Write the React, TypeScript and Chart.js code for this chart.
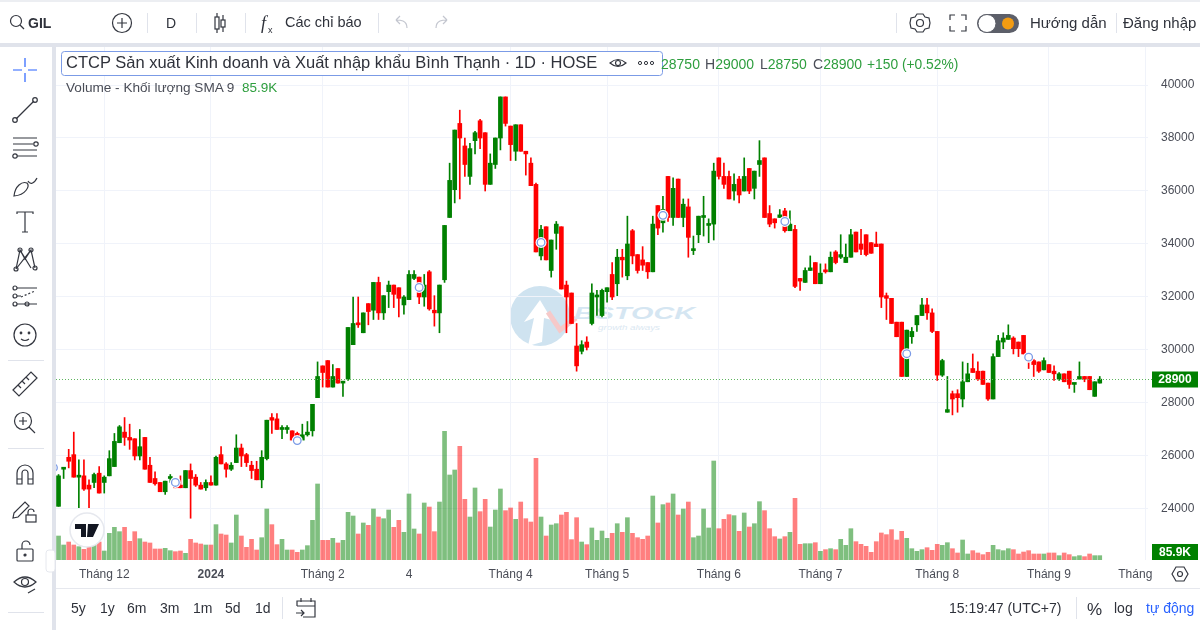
import React, { useEffect, useRef } from "react";
import { Chart, registerables } from "chart.js";

Chart.register(...registerables);

const opens = [
  24100,25500,25950,26050,25200,25250,24900,25000,25350,25000,
  25250,25600,26500,26900,26700,26650,26000,26700,25650,25150,
  25000,24650,25150,24900,24900,24800,25450,25200,24900,24800,
  25000,24900,26050,25700,25500,25750,26300,26050,25650,25500,
  25100,25900,27450,27400,27000,27000,26950,26850,26600,26800,
  26950,28200,29400,29600,28600,29300,28750,28900,30200,31000,
  30650,31750,31500,32550,31400,32200,32450,32350,31700,31900,
  32700,32750,32000,32950,31500,31400,32650,35000,36050,38550,
  37700,36550,37900,38650,38200,36250,37000,38000,39550,38450,
  37500,38500,37500,37050,36250,33550,34650,33000,34400,34650,
  32450,32150,30150,29950,30300,31000,32000,31300,32200,32850,
  32500,33500,32800,34500,33600,33400,33300,32950,35450,34800,
  36550,35000,36450,35000,35400,33750,34350,35000,34700,34750,
  37250,36550,36550,36000,36450,36000,36850,36100,37000,37250,
  35150,34950,35000,35250,34500,34550,32700,32550,33000,33300,
  32500,33000,32950,33700,33500,33300,33500,34450,34000,34350,
  34050,34000,34000,32050,31950,31050,31050,29000,30500,30950,
  31300,31700,31400,30700,29050,27650,28350,28350,28150,28800,
  29300,29200,29200,28750,28150,29750,30300,30400,30450,30300,
  30550,29850,29600,29550,29250,29450,29200,28900,29100,29200,
  28700,28900,29000,29000,28250,28750,
];
const closes = [
  25250,25550,25800,25200,25250,24750,24750,25300,24600,25200,
  25900,26550,27100,26700,26600,26000,26350,25500,25000,24950,
  24650,25050,25200,24800,24800,25450,25150,24900,24750,25000,
  24900,25950,25700,25500,25650,26300,26000,25750,25450,25100,
  25950,27350,27350,27000,27050,27050,26600,26650,26800,26900,
  27950,29000,29150,28600,29000,28750,28800,30850,31000,30950,
  31400,31450,32550,31400,32050,32450,32100,31950,32000,32850,
  32850,32000,32450,31550,31400,32450,34700,36400,38300,38000,
  37000,37600,38200,38000,36250,37050,38000,39550,38550,37750,
  38500,37500,37400,36200,33700,34550,33400,34150,34750,32300,
  32000,31000,29400,30200,30100,32150,32050,32250,32350,32000,
  33500,33400,34000,33550,33000,33200,32950,34750,34600,35300,
  35000,36100,35000,35500,34250,33800,35050,35050,34750,36750,
  36550,36250,35700,36250,35850,36550,36000,36750,37150,35000,
  34750,34800,35100,34500,34750,32400,32600,33000,33100,32500,
  32900,32950,33500,33300,33600,33500,34350,33700,33800,33600,
  33650,33900,32000,31950,31000,30500,29000,30750,30700,31300,
  31700,31400,30700,29050,29600,27750,28150,28200,28800,29100,
  29150,28900,28700,28150,29750,30350,30450,30550,30050,30050,
  29850,29650,29450,29200,29600,29150,29100,29100,28800,28700,
  28750,29000,28900,28500,28800,28900,
];
const highs = [
  25300,25550,26250,26900,25850,25850,25100,25350,25600,25250,
  26200,26850,27150,27450,27200,26650,27000,26700,25950,25400,
  25000,25050,25300,25100,25250,25450,25700,25300,25000,25100,
  25250,26000,26350,25750,25750,26800,26450,26100,25800,25800,
  26200,27350,27600,27600,27150,27150,26950,26900,27200,27300,
  27950,29550,29400,29600,29450,29300,28800,30850,32000,32000,
  31400,31750,32550,32750,32050,32600,32450,32350,32050,33000,
  33000,32750,32850,33000,32050,32450,34700,37050,38300,39050,
  38000,37800,38250,38700,38200,37400,38000,39550,39550,38450,
  38500,38500,37500,37250,36300,34700,34650,34150,34850,34650,
  32600,32150,31000,30350,30500,32500,32250,32300,32350,33300,
  33800,33800,35050,34550,33600,33900,33300,35050,35450,35800,
  36550,36500,36450,35700,35700,34300,35050,35800,34950,37050,
  37250,37050,36750,36650,36550,37250,36850,36750,37900,37250,
  35450,34950,35300,35350,35250,34700,32700,33100,33550,33300,
  33250,33250,33700,33750,34350,34000,34550,34450,34550,34350,
  34050,34450,34000,32150,31950,31050,31050,30750,30850,31300,
  31950,31950,31550,30700,29650,29000,28450,28500,29550,29500,
  29850,29550,29200,28750,29850,30550,30650,30950,30500,30300,
  30550,29850,29650,29550,29700,29450,29400,29150,29100,29200,
  28750,29550,29000,29000,28800,29000,
];
const lows = [
  24100,25150,25550,25200,24050,24700,24050,24800,24600,24600,
  25250,25600,26500,26400,26250,25850,25850,25500,25000,24900,
  24650,24550,25000,24800,24800,24800,23650,24850,24750,24700,
  24900,24900,25700,25200,25450,25750,25600,25600,25150,25100,
  24800,25850,26850,27000,26650,26850,26600,26550,26600,26750,
  26750,28200,28600,28600,28600,28750,28250,28850,30200,30850,
  30650,30950,31150,31150,31150,31600,31600,31250,31350,31900,
  32650,31750,31650,31500,30900,30650,32550,35000,35550,35700,
  36550,36250,37400,37600,36000,36250,36850,37550,38450,37150,
  37150,37500,36600,36200,33700,33400,33400,32750,33800,32300,
  30650,31000,29200,29850,30000,30950,31300,31250,31800,31900,
  32050,32750,32650,33250,32900,33000,32700,32950,34350,34450,
  34850,34700,35000,34650,33500,33600,34050,34300,34050,34150,
  36450,36100,35700,35650,35550,36000,35900,35700,36550,35000,
  34650,34600,35000,34450,34500,32350,32250,32550,33000,32500,
  32500,32900,32950,33250,33450,33300,33500,33700,33600,33550,
  33650,33900,31600,31150,31000,30500,29000,29000,30250,30700,
  31300,31150,30650,28850,29000,27650,27550,27650,27850,28800,
  29150,28850,28700,28100,28150,29750,30050,30400,29850,29750,
  29850,29300,29000,29150,29250,29150,28850,28850,28800,28550,
  28400,28900,28800,28500,28250,28750,
];
const volumes = [
  475,297,356,297,264,211,251,297,356,178,
  528,647,561,647,370,561,422,356,337,218,
  218,231,185,165,178,132,409,337,317,297,
  297,700,515,495,337,891,475,251,409,198,
  442,1010,700,304,409,198,198,152,198,284,
  785,1505,389,389,429,337,389,944,871,515,
  733,686,1010,851,818,990,647,785,548,1307,
  614,515,1129,1049,561,1148,2548,1683,1782,2251,
  1201,851,1426,957,1201,653,990,1406,977,1030,
  805,1148,818,752,2013,851,475,693,719,891,
  944,403,838,356,304,634,389,574,429,528,
  719,548,838,528,442,409,475,1267,733,1096,
  1129,1307,891,1010,1148,442,475,1010,634,1960,
  620,805,898,878,568,931,653,719,1155,977,
  620,462,416,462,548,1221,310,323,323,343,
  172,205,224,205,409,290,620,363,310,271,
  152,363,535,502,601,396,568,429,224,172,
  205,244,191,310,290,343,224,139,396,119,
  185,139,106,152,290,205,185,224,205,119,
  158,185,119,119,119,139,139,86,139,106,
  66,86,66,119,86,86,
];
const priceTicks = [24000, 26000, 28000, 30000, 32000, 34000, 36000, 38000, 40000];
const monthIndexes = [9, 30, 52, 69, 89, 108, 130, 150, 173, 195, 212];
const monthLabels = ["Tháng 12", "2024", "Tháng 2", "4", "Tháng 4", "Tháng 5", "Tháng 6", "Tháng 7", "Tháng 8", "Tháng 9", "Tháng"];
const gridIndexes = [9, 30, 52, 69, 89, 108, 130, 150, 173, 195, 214];
const eventIndexes = [-1, 23, 47, 71, 95, 119, 143, 167, 191];
const eventPrices = [25560, 25000, 26580, 32360, 34060, 35080, 34850, 29860, 29730];
const SLOT_COUNT = 215;
const lastClose = "28900";
const lastVolume = "85.9K";

const FONT = "'Liberation Sans', Arial, sans-serif";
const UP = "#008000";
const DOWN = "#ff0000";
const UP_SOFT = "rgba(0,128,0,0.5)";
const DOWN_SOFT = "rgba(255,0,0,0.5)";
const GRID = "#f0f3fa";

function Icon({ x, y, children }: { x: number; y: number; children: React.ReactNode }) {
  return <g transform={`translate(${x},${y})`} fill="none" stroke="#33363f" strokeWidth={1.2}>{children}</g>;
}

function Chrome() {
  const sep = "#e0e3eb";
  const text = { fontFamily: FONT, fill: "#2f323b" } as const;
  return (
    <svg width={1200} height={630} style={{ position: "absolute", left: 0, top: 0, pointerEvents: "none" }}>
      <rect x={0} y={0} width={1200} height={2} fill="#eceef2" />
      <rect x={0} y={43} width={1200} height={4} fill="#e0e3eb" />
      <rect x={52} y={47} width={4} height={583} fill="#e0e3eb" />
      <rect x={56} y={588} width={1144} height={1} fill="#e6e8ee" />

      <Icon x={18} y={22}><circle cx={-2} cy={-1} r={5.5} /><path d="M2 3 L6 7" /></Icon>
      <text x={28} y={28} fontSize={14} fontWeight={700} {...text}>GIL</text>
      <Icon x={122} y={23}><circle r={9.5} /><path d="M-5 0H5M0 -5V5" /></Icon>
      <rect x={147} y={13} width={1} height={20} fill={sep} />
      <text x={166} y={28} fontSize={14} {...text}>D</text>
      <rect x={196} y={13} width={1} height={20} fill={sep} />
      <Icon x={220} y={23}><rect x={-5} y={-6} width={4} height={12} /><path d="M-3 -10V-6M-3 6V10M3 -8V-3M3 4V9" /><rect x={1} y={-3} width={4} height={7} /></Icon>
      <rect x={245} y={13} width={1} height={20} fill={sep} />
      <text x={261} y={29} fontSize={18} fontStyle="italic" fontFamily="'Liberation Serif', serif" fill="#2f323b">f</text>
      <text x={268} y={33} fontSize={9} {...text}>x</text>
      <text x={285} y={27} fontSize={14.5} {...text}>Các chỉ báo</text>
      <rect x={378} y={13} width={1} height={20} fill={sep} />
      <Icon x={402} y={23}><path d="M5 5 C5 -3 -2 -3 -6 -3 M-6 -3 L-2 -7 M-6 -3 L-2 1" stroke="#c3c6cf" /></Icon>
      <Icon x={441} y={23}><path d="M-5 5 C-5 -3 2 -3 6 -3 M6 -3 L2 -7 M6 -3 L2 1" stroke="#c3c6cf" /></Icon>

      <rect x={896} y={13} width={1} height={20} fill={sep} />
      <Icon x={920} y={23}><circle r={3.5} /><path d="M-3 -9 L3 -9 L5 -6 L9 -5 L10 0 L9 5 L5 6 L3 9 L-3 9 L-5 6 L-9 5 L-10 0 L-9 -5 L-5 -6 Z" /></Icon>
      <Icon x={958} y={23}><path d="M-8 -3V-8H-3M3 -8H8V-3M8 3V8H3M-3 8H-8V3" /></Icon>
      <rect x={977} y={14} width={42} height={19} rx={9.5} fill="#5c5f69" />
      <circle cx={987} cy={23.5} r={9} fill="#fff" stroke="#5c5f69" />
      <circle cx={1008} cy={23.5} r={6} fill="#f39c12" />
      <text x={1030} y={28} fontSize={15} {...text}>Hướng dẫn</text>
      <rect x={1116} y={13} width={1} height={20} fill={sep} />
      <text x={1123} y={28} fontSize={15} {...text}>Đăng nhập</text>

      <Icon x={25} y={70}><path d="M-12 0H-3M3 0H12M0 -12V-3M0 3V12" stroke="#2962ff" /></Icon>
      <Icon x={25} y={110}><path d="M-9 9L9 -9" /><circle cx={-10} cy={10} r={2.3} /><circle cx={10} cy={-10} r={2.3} /></Icon>
      <Icon x={25} y={147}><path d="M-12 -9H12M-12 -3H8M-12 3H12M-8 9H12" /><circle cx={11} cy={-3} r={2.2} /><circle cx={-10} cy={9} r={2.2} /></Icon>
      <Icon x={25} y={186}><path d="M-11 10 C-10 0 -3 -5 2 -3 C5 0 1 9 -11 10 Z M3 -5 C5 -1 9 -2 12 -8" /></Icon>
      <Icon x={25} y={222}><path d="M-8 -8V-10H8V-8M0 -10V10M-3 10H3" /></Icon>
      <Icon x={25} y={259}><path d="M-9 10L-5 -9L0 0L6 -9L10 9M-5 -9L6 9M6 -9L-9 10" /><circle cx={-9} cy={10} r={2} /><circle cx={-5} cy={-9} r={2} /><circle cx={6} cy={-9} r={2} /><circle cx={10} cy={9} r={2} /></Icon>
      <Icon x={25} y={296}><path d="M-8 -8H12M-8 8H12M-8 0H-4" /><path d="M-4 1L10 -5" strokeDasharray="2 2" /><circle cx={-10} cy={-8} r={2} /><circle cx={-10} cy={0} r={2} /><circle cx={-10} cy={8} r={2} /><circle cx={2} cy={8} r={2} /></Icon>
      <Icon x={25} y={335}><circle r={11} /><circle cx={-4} cy={-2} r={0.8} /><circle cx={4} cy={-2} r={0.8} /><path d="M-4 4 Q0 7 4 4" /></Icon>
      <rect x={8} y={360} width={36} height={1} fill={sep} />
      <Icon x={25} y={384}><path d="M-12 6L6 -12L12 -6L-6 12Z M-7 1L-4 4M-3 -3L0 0M1 -7L4 -4" /></Icon>
      <Icon x={25} y={423}><circle cx={-2} cy={-2} r={8.5} /><path d="M-6 -2H2M-2 -6V2M4 4L10 10" /></Icon>
      <rect x={8} y={448} width={36} height={1} fill={sep} />
      <Icon x={25} y={474}><path d="M-8 10V-1A8 8 0 0 1 8 -1V10H3V-1A3 3 0 0 0 -3 -1V10Z M-8 5H-3M3 5H8" /></Icon>
      <Icon x={25} y={512}><path d="M-11 1L0 -10L4 -6L-7 5L-12 6Z" /><rect x={1} y={3} width={10} height={7} /><path d="M3 3V0A3 3 0 0 1 9 0" /></Icon>
      <Icon x={25} y={551}><rect x={-8} y={-2} width={16} height={12} rx={1} /><path d="M-3 -2V-6A4 4 0 0 1 5 -6" /><circle cy={4} r={1} fill="#33363f" /></Icon>
      <Icon x={25} y={584}><path d="M-11 -2Q0 -12 11 -2Q0 8 -11 -2Z" /><circle cy={-2} r={3.5} /><path d="M3 9L10 5" /></Icon>
      <rect x={8} y={612} width={36} height={1} fill={sep} />
      <rect x={46} y={550} width={9} height={22} rx={3} fill="#fff" stroke="#e6e8ee" />

      <rect x={61.5} y={51.5} width={601} height={24} rx={3} fill="#fff" stroke="#7b9be6" />
      <text x={66} y={68} fontSize={16.5} {...text}>CTCP Sản xuất Kinh doanh và Xuất nhập khẩu Bình Thạnh · 1D · HOSE</text>
      <Icon x={618} y={63}><path d="M-8 0Q0 -7 8 0Q0 7 -8 0Z" /><circle r={2.5} /></Icon>
      <g fill="none" stroke="#33363f"><circle cx={640} cy={63} r={1.6} /><circle cx={646} cy={63} r={1.6} /><circle cx={652} cy={63} r={1.6} /></g>
      <text x={661} y={69} fontSize={14} fontFamily={FONT} fill="#2e9e3e">28750</text>
      <text x={705} y={69} fontSize={14} fontFamily={FONT} fill="#2e9e3e"><tspan fill="#4a4d57">H</tspan>29000</text>
      <text x={760} y={69} fontSize={14} fontFamily={FONT} fill="#2e9e3e"><tspan fill="#4a4d57">L</tspan>28750</text>
      <text x={813} y={69} fontSize={14} fontFamily={FONT} fill="#2e9e3e"><tspan fill="#4a4d57">C</tspan>28900</text>
      <text x={867} y={69} fontSize={13.8} fontFamily={FONT} fill="#2e9e3e">+150 (+0.52%)</text>
      <text x={66} y={92} fontSize={13.6} fontFamily={FONT} fill="#4a4d57">Volume - Khối lượng SMA 9</text>
      <text x={242} y={92} fontSize={13.5} fontFamily={FONT} fill="#2e9e3e">85.9K</text>

      <circle cx={87} cy={530} r={17} fill="#fff" stroke="#e6e8ee" strokeWidth={1.5} />
      <path d="M75 524H86V537H81V529H75Z M88 524H99L93 537H87Z" fill="#131722" />

      <Icon x={1180} y={574}><path d="M-8 0L-4 -7H4L8 0L4 7H-4Z" /><circle r={2.5} /></Icon>

      <g fontFamily={FONT} fontSize={14} fill="#2f323b">
        <text x={71} y={613}>5y</text>
        <text x={100} y={613}>1y</text>
        <text x={127} y={613}>6m</text>
        <text x={160} y={613}>3m</text>
        <text x={193} y={613}>1m</text>
        <text x={225} y={613}>5d</text>
        <text x={255} y={613}>1d</text>
        <text x={949} y={613}>15:19:47 (UTC+7)</text>
        <text x={1087} y={615} fontSize={17}>%</text>
        <text x={1114} y={613}>log</text>
        <text x={1146} y={613} fill="#2962ff">tự động</text>
      </g>
      <rect x={282} y={597} width={1} height={22} fill={sep} />
      <rect x={1076} y={597} width={1} height={22} fill={sep} />
      <Icon x={306} y={608}><path d="M-9 -2V-7H9V9H-3M-9 -2H9M-5 -10V-6M5 -10V-6M-10 5H-2M-5 2L-2 5L-5 8" /></Icon>
    </svg>
  );
}

function Watermark() {
  return (
    <svg width={1200} height={630} style={{ position: "absolute", left: 0, top: 0, pointerEvents: "none" }}>
      <circle cx={540} cy={316} r={30} fill="#cfe3f0" />
      <path d="M528 346 L534 318 L524 322 L540 300 L552 320 L544 318 L542 342 Z" fill="#fff" />
      <path d="M548 312 L560 330 L576 318" fill="none" stroke="#f6c9c9" strokeWidth={5} />
      <text x={574} y={319} fontSize={17} fontWeight={700} fontStyle="italic" fontFamily={FONT} fill="#d5e6f2" textLength={121} lengthAdjust="spacingAndGlyphs">BSTOCK</text>
      <text x={598} y={330} fontSize={8} fontStyle="italic" fontFamily={FONT} fill="#dbe8f2" textLength={62} lengthAdjust="spacingAndGlyphs">growth always</text>
    </svg>
  );
}

export default function App() {
  const ref = useRef<HTMLCanvasElement>(null);
  useEffect(() => {
    const canvas = ref.current;
    if (!canvas) return;
    const n = opens.length;
    const labels: string[] = Array.from({ length: SLOT_COUNT }, (_, i) => {
      const at = monthIndexes.indexOf(i);
      return at >= 0 ? monthLabels[at] : "";
    });
    const isUp = (i: number) => closes[i] >= opens[i];
    const solid = Array.from({ length: n }, (_, i) => (isUp(i) ? UP : DOWN));
    const soft = Array.from({ length: n }, (_, i) => (isUp(i) ? UP_SOFT : DOWN_SOFT));

    const overlay = {
      id: "overlay",
      afterDatasetsDraw(chart: any) {
        const { ctx, chartArea: a, scales } = chart;
        const x = scales.x;
        const y = scales.y;
        const v = scales.vol;
        ctx.save();
        ctx.beginPath();
        ctx.rect(a.left, a.top, a.right - a.left + 4, a.bottom - a.top);
        ctx.clip();
        eventIndexes.forEach((idx, i) => {
          const px = x.getPixelForValue(idx);
          const py = y.getPixelForValue(eventPrices[i]);
          ctx.beginPath();
          ctx.arc(px, py, 5.5, 0, Math.PI * 2);
          ctx.fillStyle = "#fff";
          ctx.fill();
          ctx.beginPath();
          ctx.arc(px, py, 3.8, 0, Math.PI * 2);
          ctx.lineWidth = 1.3;
          ctx.strokeStyle = "#7b9be6";
          ctx.stroke();
        });
        const lineY = Math.round(y.getPixelForValue(closes[n - 1])) + 0.5;
        ctx.beginPath();
        ctx.setLineDash([1, 2]);
        ctx.lineWidth = 1;
        ctx.strokeStyle = "#5fb55f";
        ctx.moveTo(a.left, lineY);
        ctx.lineTo(a.right + 4, lineY);
        ctx.stroke();
        ctx.restore();

        const tag = (cy: number, label: string) => {
          ctx.fillStyle = UP;
          ctx.fillRect(a.right + 4, cy - 8, 46, 16);
          ctx.fillStyle = "#fff";
          ctx.font = `700 12px ${FONT}`;
          ctx.textAlign = "center";
          ctx.textBaseline = "middle";
          ctx.fillText(label, a.right + 27, cy + 0.5);
        };
        tag(lineY, lastClose);
        tag(v.getPixelForValue(0) - 8, lastVolume);
      },
    };

    const noScalePadding = (s: any) => {
      s.paddingTop = 0;
      s.paddingBottom = 0;
      s.paddingLeft = 0;
      s.paddingRight = 0;
    };

    const chart = new Chart(canvas, {
      type: "bar",
      data: {
        labels,
        datasets: [
          { label: "Khối lượng", yAxisID: "vol", data: volumes, backgroundColor: soft, barThickness: 4, order: 3, grouped: false } as any,
          { label: "Bấc", yAxisID: "y", data: highs.map((h, i) => [lows[i], h]), backgroundColor: solid, barThickness: 1, order: 2, grouped: false } as any,
          { label: "Thân nến", yAxisID: "y", data: opens.map((o, i) => [o, closes[i]]), backgroundColor: solid, barThickness: 4, minBarLength: 2, order: 1, grouped: false } as any,
        ],
      },
      options: {
        animation: false,
        responsive: false,
        maintainAspectRatio: false,
        layout: { padding: 0 },
        plugins: { legend: { display: false }, tooltip: { enabled: false }, title: { display: false } },
        font: { family: FONT },
        scales: {
          x: {
            type: "category",
            offset: true,
            grid: {
              drawTicks: false,
              offset: false,
              color: (c: any) => (gridIndexes.includes(c.index) ? GRID : "transparent"),
            },
            border: { display: false },
            ticks: {
              autoSkip: false,
              maxRotation: 0,
              minRotation: 0,
              padding: 7,
              color: "#4a4d57",
              font: (c: any) => ({ family: FONT, size: 12, weight: c.tick && c.tick.label === "2024" ? "bold" : "normal" }),
            },
            afterFit: (s: any) => { s.height = 28; noScalePadding(s); },
          },
          y: {
            position: "right",
            min: 22074,
            max: 41472,
            grid: { color: GRID, drawTicks: false },
            border: { display: false },
            afterBuildTicks: (s: any) => { s.ticks = priceTicks.map((value) => ({ value })); },
            ticks: {
              padding: 13,
              color: "#4a4d57",
              font: { family: FONT, size: 12 },
              callback: (value: any) => String(value),
            },
            afterFit: (s: any) => { s.width = 52; noScalePadding(s); },
          },
          vol: {
            display: false,
            position: "left",
            min: 0,
            max: 10177,
          },
        },
      } as any,
      plugins: [overlay],
    });
    return () => chart.destroy();
  }, []);

  return (
    <div style={{ position: "absolute", left: 0, top: 0, width: 1200, height: 630, overflow: "hidden", background: "#fff" }}>
      <Watermark />
      <canvas ref={ref} width={1144} height={542} style={{ position: "absolute", left: 56, top: 46, width: 1144, height: 542 }} />
      <Chrome />
    </div>
  );
}
